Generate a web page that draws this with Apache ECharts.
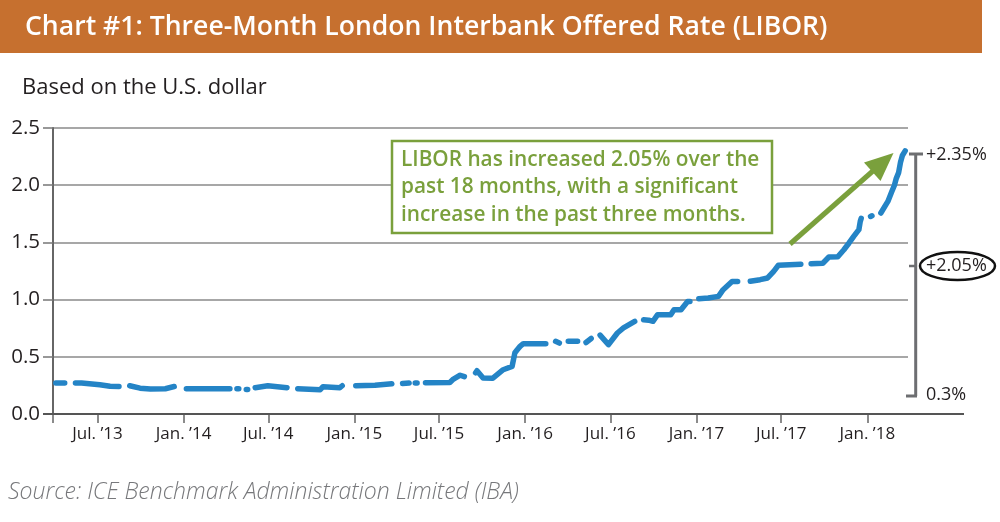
<!DOCTYPE html>
<html>
<head>
<meta charset="utf-8">
<script src="https://cdn.jsdelivr.net/npm/echarts@6/dist/echarts.min.js"></script>
<style>
html,body{margin:0;padding:0;background:#fff;}
#chart{width:1000px;height:522px;}
</style>
</head>
<body>
<div id="chart"></div>
<script>
// ---- data ----
var dates = [
 '2013-04-03','2013-04-22','2013-05-01',
 '2013-05-15','2013-05-28','2013-07-06','2013-07-28','2013-08-16','2013-08-28',
 '2013-09-08','2013-09-30','2013-10-22','2013-11-23','2013-12-12','2013-12-28',
 '2014-01-07','2014-04-10','2014-04-18',
 '2014-04-25','2014-04-29','2014-05-08',
 '2014-05-15','2014-05-18','2014-05-27',
 '2014-06-03','2014-06-30','2014-08-10','2014-08-22',
 '2014-09-02','2014-10-20','2014-10-26','2014-12-01','2014-12-06','2014-12-20',
 '2015-01-04','2015-02-14','2015-03-22','2015-04-02',
 '2015-04-14','2015-04-28','2015-05-06',
 '2015-05-11','2015-05-15','2015-05-24',
 '2015-06-02','2015-07-24','2015-07-30','2015-08-15','2015-08-24','2015-09-05',
 '2015-09-17','2015-09-20','2015-10-03','2015-10-24','2015-11-15','2015-12-04','2015-12-10','2015-12-15','2015-12-21','2015-12-28','2016-02-14','2016-02-26',
 '2016-03-06','2016-03-14','2016-03-24',
 '2016-04-02','2016-04-22','2016-05-02',
 '2016-05-10','2016-05-21','2016-06-01',
 '2016-06-09','2016-06-27','2016-07-16','2016-07-29','2016-08-22','2016-09-01',
 '2016-09-10','2016-09-21','2016-09-30','2016-10-10','2016-11-07','2016-11-14','2016-11-29','2016-12-13','2016-12-18','2016-12-28',
 '2017-01-06','2017-01-26','2017-02-17','2017-02-27','2017-03-18','2017-03-30','2017-04-12',
 '2017-04-26','2017-05-17','2017-06-02','2017-06-15','2017-06-25','2017-08-12','2017-08-22',
 '2017-09-03','2017-09-28','2017-10-11','2017-10-30','2017-11-12','2017-11-23','2017-12-03','2017-12-14','2017-12-17','2017-12-19','2017-12-31',
 '2018-01-08','2018-01-11','2018-01-20',
 '2018-01-30','2018-02-14','2018-02-22','2018-02-28','2018-03-04','2018-03-09','2018-03-13','2018-03-17','2018-03-23'
];
var libor = [
 0.27,0.27,null,
 0.27,0.27,0.256,0.243,0.241,null,
 0.247,0.226,0.219,0.221,0.240,null,
 0.221,0.221,null,
 0.221,0.221,null,
 0.215,0.215,null,
 0.230,0.247,0.230,null,
 0.221,0.212,0.239,0.230,0.247,null,
 0.247,0.252,0.265,null,
 0.267,0.271,null,
 0.272,0.272,null,
 0.274,0.276,0.300,0.339,0.326,null,
 0.360,0.378,0.315,0.313,0.387,0.416,0.536,0.562,0.591,0.615,0.615,null,
 0.635,0.620,null,
 0.635,0.635,null,
 0.625,0.660,null,
 0.690,0.606,0.708,0.752,0.810,null,
 0.824,0.820,0.810,0.868,0.868,0.912,0.912,0.984,0.984,null,
 1.008,1.014,1.028,1.087,1.159,1.159,null,
 1.160,1.174,1.189,1.247,1.300,1.310,null,
 1.314,1.318,1.372,1.375,1.436,1.495,1.552,1.611,1.684,1.710,null,
 1.727,1.733,null,
 1.757,1.858,1.940,2.000,2.060,2.110,2.200,2.260,2.300
];
var tickDates = ['2013-03-28','2013-07-01','2014-01-01','2014-07-01','2015-01-01','2015-07-01','2016-01-01','2016-07-01','2017-01-01','2017-07-01','2018-01-01'];
var tickLabels = ['',"Jul. ’13","Jan. ’14","Jul. ’14","Jan. ’15","Jul. ’15","Jan. ’16","Jul. ’16","Jan. ’17","Jul. ’17","Jan. ’18"];
var titleText = 'Chart #1: Three-Month London Interbank Offered Rate (LIBOR)';
var subtitleText = 'Based on the U.S. dollar';
var sourceText = 'Source: ICE Benchmark Administration Limited (IBA)';
var noteText = 'LIBOR has increased 2.05% over the\npast 18 months, with a significant\nincrease in the past three months.';
var bracketLabels = ['+2.35%', '+2.05%', '0.3%'];

// ---- chart ----
function ts(s){ var p = s.split('-'); return Date.UTC(+p[0], +p[1]-1, +p[2]); }
var tickTs = tickDates.map(ts);
var seriesData = dates.map(function(d,i){ return [ts(d), libor[i]]; });

var FONT = '"Open Sans"';
var GRAY = '#6d6e71';
var GREEN = '#7aa03c';

var chart = echarts.init(document.getElementById('chart'), null, {renderer:'canvas'});
chart.setOption({
  animation:false,
  backgroundColor:'#fff',
  textStyle:{fontFamily:FONT},
  grid:{left:53, right:92, top:128, bottom:108, containLabel:false},
  xAxis:{
    type:'value',
    min:ts('2013-03-28'), max:ts('2018-03-29'),
    axisLine:{show:true, lineStyle:{color:'#555', width:2}},
    axisTick:{show:true, length:9, lineStyle:{color:'#666', width:1.5}, customValues:tickTs},
    axisLabel:{
      customValues:tickTs.slice(1),
      color:'#231f20', fontSize:17, fontFamily:FONT, margin:12,
      formatter:function(v){ var i = tickTs.indexOf(v); return i>=0 ? tickLabels[i] : ''; }
    },
    splitLine:{show:false}
  },
  yAxis:{
    type:'value', min:0, max:2.5, interval:0.5,
    axisLine:{show:true, lineStyle:{color:'#666', width:2}},
    axisTick:{show:true, length:10, lineStyle:{color:'#777', width:1.5}},
    axisLabel:{color:'#231f20', fontSize:20.5, fontFamily:FONT, margin:13,
      formatter:function(v){ return v.toFixed(1); }},
    splitLine:{show:true, lineStyle:{color:'#8a8a8a', width:1.5}}
  },
  series:[{
    type:'line',
    data:seriesData,
    showSymbol:false,
    connectNulls:false,
    smooth:false,
    lineStyle:{color:'#2484c6', width:5.5, cap:'round', join:'round'},
    z:3
  }],
  graphic:[
    {type:'rect', shape:{x:0,y:0,width:982,height:53}, style:{fill:'#c6702f'}, z:1},
    {type:'text', x:25, y:27, style:{text:titleText, fill:'#fff', font:'600 26.6px '+FONT, textVerticalAlign:'middle'}, z:2},
    {type:'text', x:22, y:88, style:{text:subtitleText, fill:'#231f20', font:'22px '+FONT, textVerticalAlign:'middle'}},
    {type:'text', x:8, y:492, style:{text:sourceText, fill:'#77787b', font:'italic 300 23px '+FONT, textVerticalAlign:'middle'}},
    {type:'line', shape:{x1:43,y1:414,x2:964,y2:414}, style:{stroke:'#555', lineWidth:2}, z:10},
    {type:'rect', shape:{x:392,y:141,width:380,height:92}, style:{fill:'#fff', stroke:GREEN, lineWidth:2.5}, z:10},
    {type:'text', x:401, y:146, style:{text:noteText, fill:GREEN, font:'600 20.8px '+FONT, lineHeight:27.5}, z:11},
    {type:'line', shape:{x1:790,y1:244,x2:874,y2:170}, style:{stroke:GREEN, lineWidth:5}, z:10},
    {type:'polygon', shape:{points:[[893.5,153],[880.5,181],[864,162.5]]}, style:{fill:GREEN}, z:10},
    {type:'line', shape:{x1:915.7,y1:154,x2:915.7,y2:396}, style:{stroke:GRAY, lineWidth:3}, z:10},
    {type:'line', shape:{x1:909,y1:154,x2:923,y2:154}, style:{stroke:GRAY, lineWidth:3}, z:10},
    {type:'line', shape:{x1:909,y1:266,x2:917,y2:266}, style:{stroke:GRAY, lineWidth:2.5}, z:10},
    {type:'line', shape:{x1:906,y1:396,x2:917,y2:396}, style:{stroke:GRAY, lineWidth:3}, z:10},
    {type:'text', x:926, y:155, style:{text:bracketLabels[0], fill:'#231f20', font:'18px '+FONT, textVerticalAlign:'middle'}, z:10},
    {type:'text', x:926, y:266, style:{text:bracketLabels[1], fill:'#231f20', font:'18px '+FONT, textVerticalAlign:'middle'}, z:10},
    {type:'text', x:926, y:395, style:{text:bracketLabels[2], fill:'#231f20', font:'18px '+FONT, textVerticalAlign:'middle'}, z:10},
    {type:'ellipse', shape:{cx:957.5, cy:266, rx:37.5, ry:14}, style:{fill:'none', stroke:'#111', lineWidth:2.5}, z:10}
  ]
});
</script>
</body>
</html>
